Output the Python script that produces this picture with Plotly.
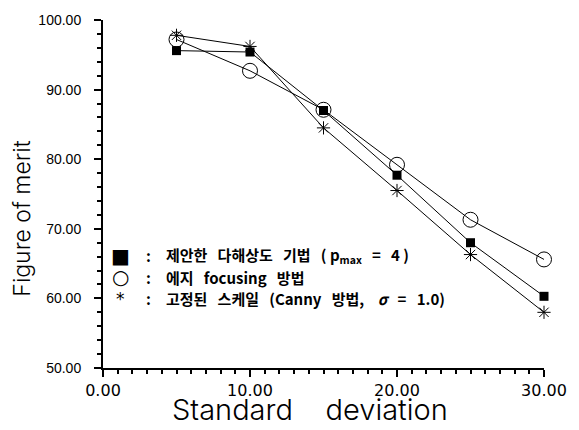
import plotly.graph_objects as go

sigma = [5, 10, 15, 20, 25, 30]
proposed = [95.6, 95.4, 87.0, 77.7, 68.0, 60.3]
edge_focusing = [97.2, 92.7, 87.1, 79.2, 71.3, 65.6]
fixed_scale = [97.8, 96.2, 84.5, 75.5, 66.3, 58.0]

NB = "\u00a0"
legend_symbols = ["■", "○", "*"]
legend_labels = [
    f"제안한{NB*3}다해상도{NB*3}기법{NB*3}({NB}p<sub>max</sub>{NB*3}={NB*3}4{NB})",
    f"에지{NB*3}focusing{NB*3}방법",
    f"고정된{NB*3}스케일{NB*3}(Canny{NB*3}방법,{NB*4}<i>σ</i>{NB*3}={NB*3}1.0)",
]

x_title = f"Standard{NB*4}deviation"
y_title = "Figure of merit"

fig = go.Figure()
line = dict(color="black", width=1)
fig.add_trace(go.Scatter(x=sigma, y=edge_focusing, mode="lines+markers", line=line,
                         marker=dict(symbol="circle-open", size=15, color="black", line=dict(width=1)),
                         cliponaxis=False, showlegend=False))
fig.add_trace(go.Scatter(x=sigma, y=proposed, mode="lines+markers", line=line,
                         marker=dict(symbol="square", size=9, color="black"),
                         cliponaxis=False, showlegend=False))
fig.add_trace(go.Scatter(x=sigma, y=fixed_scale, mode="lines+markers", line=line,
                         marker=dict(symbol="asterisk-open", size=11, color="black", line=dict(width=1)),
                         cliponaxis=False, showlegend=False))

kfont = dict(family="Noto Sans CJK KR", size=15, color="black", weight="bold")
for i, (s, t) in enumerate(zip(legend_symbols, legend_labels)):
    yy = 0.323 - i * 0.062
    fig.add_annotation(x=0.040, y=yy, xref="paper", yref="paper", text=s, showarrow=False,
                       xanchor="center", yanchor="middle",
                       font=dict(family="DejaVu Sans", size=20 if i < 2 else 17, color="black"))
    fig.add_annotation(x=0.103, y=yy, xref="paper", yref="paper", text=":", showarrow=False,
                       xanchor="center", yanchor="middle", font=kfont)
    fig.add_annotation(x=0.138, y=yy, xref="paper", yref="paper", text=t, showarrow=False,
                       xanchor="left", yanchor="middle", font=kfont)

fig.add_annotation(x=0.47, y=-0.12, xref="paper", yref="paper", text=x_title, showarrow=False,
                   xanchor="center", yanchor="middle",
                   font=dict(family="Inter", size=29, color="black", weight=300))
fig.add_annotation(x=-0.183, y=0.43, xref="paper", yref="paper", text=y_title, showarrow=False,
                   textangle=-90, xanchor="center", yanchor="middle",
                   font=dict(family="Inter", size=23, color="black", weight=300))

axis_common = dict(showline=True, linecolor="black", linewidth=2, ticks="outside",
                   ticklen=7, tickwidth=1.5, tickcolor="black", showgrid=False, zeroline=False,
                   tickformat=".2f", tickmode="linear")
minor_common = dict(tickmode="linear", ticks="outside", ticklen=4, tickwidth=1.5,
                    tickcolor="black", showgrid=False)

fig.update_layout(
    xaxis=dict(range=[0, 30], tick0=0, dtick=10, ticklabelstandoff=0,
               tickfont=dict(family="DejaVu Sans", size=16, color="black"),
               minor=dict(tick0=0, dtick=1, **minor_common), **axis_common),
    yaxis=dict(range=[50, 100], tick0=50, dtick=10, ticklabelstandoff=10,
               tickfont=dict(family="Liberation Sans", size=14, color="black"),
               minor=dict(tick0=50, dtick=2, **minor_common), **axis_common),
    width=579, height=430, margin=dict(l=103, r=32, t=15, b=62),
    plot_bgcolor="white", paper_bgcolor="white",
)

fig.write_html("out.html", config={"displayModeBar": False},
               post_script="document.body.style.margin='0px';")
